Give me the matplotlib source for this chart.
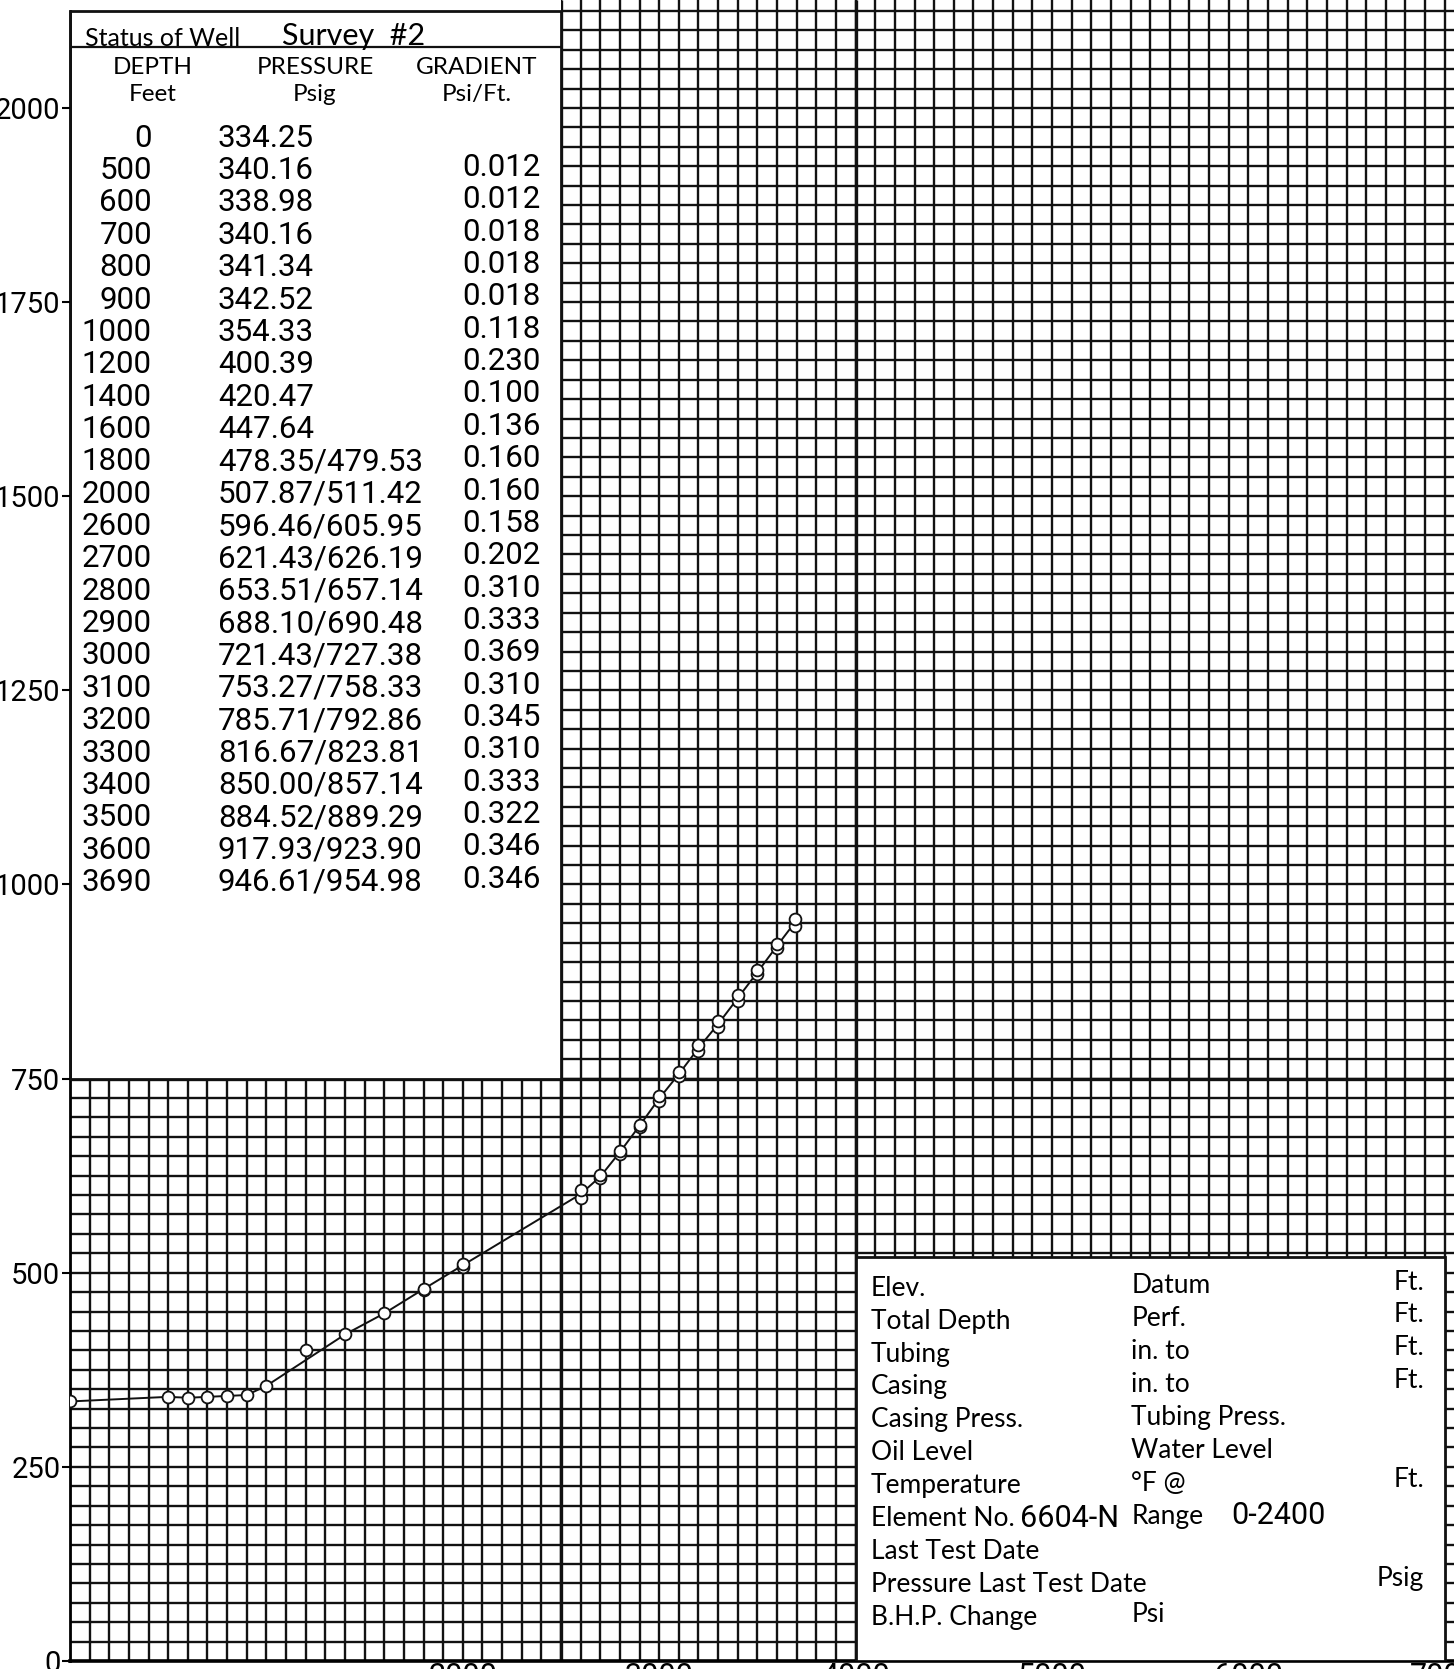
import numpy as np
import matplotlib.pyplot as plt

# survey #2 readings: depth (ft) vs pressure (psig); second reading after the slash
depth_ft = [0, 500, 600, 700, 800, 900, 1000, 1200, 1400, 1600, 1800, 2000,
            2600, 2700, 2800, 2900, 3000, 3100, 3200, 3300, 3400, 3500, 3600, 3690]
press_a = [334.25, 340.16, 338.98, 340.16, 341.34, 342.52, 354.33, 400.39,
           420.47, 447.64, 478.35, 507.87, 596.46, 621.43, 653.51, 688.10,
           721.43, 753.27, 785.71, 816.67, 850.00, 884.52, 917.93, 946.61]
press_b = [np.nan] * 10 + [479.53, 511.42, 605.95, 626.19, 657.14, 690.48,
                           727.38, 758.33, 792.86, 823.81, 857.14, 889.29,
                           923.90, 954.98]
gradient = ["", "0.012", "0.012", "0.018", "0.018", "0.018", "0.118", "0.230",
            "0.100", "0.136", "0.160", "0.160", "0.158", "0.202", "0.310",
            "0.333", "0.369", "0.310", "0.345", "0.310", "0.333", "0.322",
            "0.346", "0.346"]
off_line = [1200]   # reading drawn off the curve on the chart

x_ticks = [0, 1000, 2000, 3000, 4000, 5000, 6000, 7000]
x_tick_labels = ["", "", "2000", "3000", "4000", "5000", "6000", "7000"]
y_ticks = [0, 250, 500, 750, 1000, 1250, 1500, 1750, 2000]

info_left = ["Elev.", "Total Depth", "Tubing", "Casing", "Casing Press.",
             "Oil Level", "Temperature", "Element No.", "Last Test Date",
             "Pressure Last Test Date", "B.H.P. Change"]
info_mid = ["Datum", "Perf.", "in. to", "in. to", "Tubing Press.",
            "Water Level", "°F @", "Range", "", "", "Psi"]
info_right = ["Ft.", "Ft.", "Ft.", "Ft.", "", "", "Ft.", "", "", "Psig", ""]
element_no = "6604-N"
gauge_range = "0-2400"

LAB = "Lato"
TYPE = "Roboto"
INK = "#111111"

fig = plt.figure(figsize=(14.54, 16.69), dpi=100)
ax = fig.add_axes([70 / 1454, 8 / 1669, 1 - 70 / 1454, 1 - 8 / 1669])
ax.set_xlim(0, 7047)
ax.set_ylim(0, 2139)

# graph paper
ax.vlines(np.arange(0, 7001, 100), 0, 2139, color=INK, lw=1.7, zorder=1)
ax.hlines(np.arange(25, 2126, 25), 0, 7047, color=INK, lw=1.7, zorder=1)
ax.vlines([2500, 4000], 0, 2139, color=INK, lw=2.4, zorder=1)
ax.hlines([750], 0, 7047, color=INK, lw=2.4, zorder=1)

# table panel (top left) and info panel (bottom right)
ax.add_patch(plt.Rectangle((0, 750), 2500, 1400, facecolor="white",
                           edgecolor="none", zorder=2))
ax.add_patch(plt.Rectangle((0, 750), 2500, 1375, facecolor="none",
                           edgecolor=INK, lw=2.0, zorder=3))
ax.plot([0, 2500], [2078, 2078], color=INK, lw=1.6, zorder=3)
ax.add_patch(plt.Rectangle((4000, 0), 3000, 520, facecolor="white",
                           edgecolor=INK, lw=2.0, zorder=3))

# curve
d = np.array(depth_ft, dtype=float)
pa = np.array(press_a)
pb = np.array(press_b)
mid = np.where(np.isnan(pb), pa, (pa + pb) / 2)
keep = ~np.isin(d, off_line)
ax.plot(d[keep], mid[keep], color=INK, lw=1.4, zorder=4)
ax.plot(d, pa, "o", ms=8.5, mfc="white", mec=INK, mew=1.3, zorder=5)
ax.plot(d, pb, "o", ms=8.5, mfc="white", mec=INK, mew=1.3, zorder=5)

# table text
ax.text(76, 2089, "Status of Well", family=LAB, fontsize=18, va="center", zorder=6)
ax.text(1079, 2093, "Survey  #2", family=LAB, fontsize=22, va="center", zorder=6)
for x, top, bottom in [(423, "DEPTH", "Feet"), (1247, "PRESSURE", "Psig"),
                       (2070, "GRADIENT", "Psi/Ft.")]:
    ax.text(x, 2052, top, family=LAB, fontsize=17.5, ha="center", va="center", zorder=6)
    ax.text(x, 2017, bottom, family=LAB, fontsize=17.5, ha="center", va="center", zorder=6)

for i, dep in enumerate(depth_ft):
    y = 1961 - 41.67 * i
    p = f"{press_a[i]:.2f}"
    if not np.isnan(press_b[i]):
        p += f"/{press_b[i]:.2f}"
    ax.text(417, y, str(dep), family=TYPE, fontsize=22.5, ha="right", va="center", zorder=6)
    ax.text(753, y, p, family=TYPE, fontsize=22.5, ha="left", va="center", zorder=6)
    ax.text(2396, y + 4, gradient[i], family=TYPE, fontsize=22.5, ha="right",
            va="center", zorder=6)

# info panel text
for i in range(len(info_left)):
    y = 480 - 42.36 * i
    ax.text(4076, y, info_left[i], family=LAB, fontsize=19, va="center", zorder=6)
    ax.text(5404, y + 3, info_mid[i], family=LAB, fontsize=19, va="center", zorder=6)
    ax.text(6894, y + 8, info_right[i], family=LAB, fontsize=19, ha="right",
            va="center", zorder=6)
ax.text(4835, 480 - 42.36 * 7, element_no, family=TYPE, fontsize=22, va="center", zorder=6)
ax.text(5913, 480 - 42.36 * 7 + 4, gauge_range, family=TYPE, fontsize=22,
        va="center", zorder=6)

# axes
for s in ["top", "right"]:
    ax.spines[s].set_visible(False)
ax.spines["left"].set_bounds(0, 2125)
ax.spines["left"].set_linewidth(2.0)
ax.spines["bottom"].set_linewidth(2.6)
ax.set_xticks(x_ticks)
ax.set_xticklabels(x_tick_labels, family=TYPE, fontsize=22)
ax.set_yticks(y_ticks)
ax.set_yticklabels([str(v) for v in y_ticks], family=TYPE, fontsize=21)
ax.tick_params(axis="x", length=0, pad=1)
ax.tick_params(axis="y", length=6, width=1.5, pad=1)

fig.savefig("out.png", dpi=100)
